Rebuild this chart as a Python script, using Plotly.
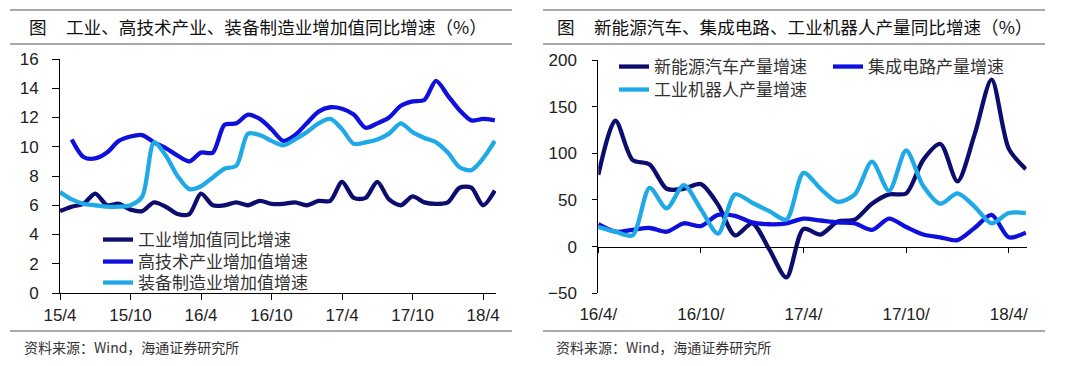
import plotly.graph_objects as go

# ---------------- data ----------------
# left chart: monthly, index 0 .. 37
left_tickvals = [0, 6, 12, 18, 24, 30, 36]
left_ticktext = ["15/4", "15/10", "16/4", "16/10", "17/4", "17/10", "18/4"]
ind_va = [5.6, 5.9, 6.1, 6.8, 6.0, 6.1, 5.7, 5.6, 6.2, 5.9, 5.4, 5.4, 6.8, 6.0, 6.0, 6.2,
          6.0, 6.3, 6.1, 6.1, 6.2, 6.0, 6.3, 6.3, 7.6, 6.5, 6.5, 7.6, 6.4, 6.0, 6.6, 6.2,
          6.1, 6.2, 7.2, 7.2, 6.0, 7.0]
hi_tech = [None, 10.5, 9.3, 9.2, 9.6, 10.4, 10.7, 10.8, 10.3, 9.9, 9.4, 9.0, 9.6, 9.6, 11.5, 11.6,
           12.2, 11.9, 11.2, 10.4, 10.8, 11.6, 12.4, 12.7, 12.6, 12.2, 11.3, 11.6, 12.0, 12.8, 13.1, 13.2,
           14.5, 13.5, 12.5, 11.8, 11.9, 11.8]
equip = [6.9, 6.4, 6.1, 6.0, 5.9, 5.9, 6.0, 6.6, 10.3, 9.4, 8.0, 7.1, 7.3, 7.9, 8.5, 8.7,
         10.9, 10.8, 10.4, 10.1, 10.5, 11.0, 11.6, 11.9, 11.2, 10.2, 10.3, 10.5, 10.9, 11.6, 11.0, 10.6,
         10.3, 9.6, 8.6, 8.4, 9.2, 10.4]
left_names = ["工业增加值同比增速", "高技术产业增加值增速", "装备制造业增加值增速"]

# right chart: monthly, index 0 .. 25
right_tickvals = [0, 6, 12, 18, 24]
right_ticktext = ["16/4/", "16/10/", "17/4/", "17/10/", "18/4/"]
nev = [77, 135, 93, 88, 62, 62, 67, 45, 12, 25, -3, -33, 19, 13, 27, 29, 46, 56, 57, 93,
       110, 70, 120, 179, 105, 83]
ic = [24, 16, 18, 20, 16, 25, 22, 34, 33, 26, 24, 25, 30, 28, 26, 25, 18, 30, 21, 13,
      10, 7, 20, 34, 10, 15]
robots = [21, 16, 12, 63, 41, 66, 40, 14, 56, 47, 38, 29, 79, 62, 48, 56, 91, 60, 103, 65,
          46, 57, 43, 25, 36, 36]
right_names = ["新能源汽车产量增速", "集成电路产量增速", "工业机器人产量增速"]

left_title = "工业、高技术产业、装备制造业增加值同比增速（%）"
right_title = "新能源汽车、集成电路、工业机器人产量同比增速（%）"
source_text = "资料来源：Wind，海通证券研究所"

# ---------------- style ----------------
W, H = 1080, 366
NAVY = "#0d0d70"
BLUE = "#1010dc"
LIGHT = "#1fa9e6"
LW = 4.3
TXT = "#222222"
GRAY = "#8c8c8c"
CJK = "Noto Sans CJK SC"
LAT = "Liberation Sans, Arial"

# page layout (pixels): panel spans and rule heights
PANELS_X = [(10, 512), (543, 1045)]
RULES_Y = [10, 44, 331]


def px(x):
    return x / W


def py(y):
    return 1 - y / H


fig = go.Figure()

# one legend per entry so each entry sits where the reference puts it
left_legends = ["legend", "legend4", "legend5"]
right_legends = ["legend2", "legend3", "legend6"]

xl = list(range(len(ind_va)))
for vals, name, col, lg in zip([ind_va, hi_tech, equip], left_names, [NAVY, BLUE, LIGHT], left_legends):
    fig.add_trace(go.Scatter(x=xl, y=vals, name=name, mode="lines",
                             line=dict(color=col, width=LW, shape="spline", smoothing=0.8),
                             xaxis="x", yaxis="y", legend=lg, connectgaps=False))

xr = list(range(len(nev)))
for vals, name, col, lg in zip([nev, ic, robots], right_names, [NAVY, BLUE, LIGHT], right_legends):
    fig.add_trace(go.Scatter(x=xr, y=vals, name=name, mode="lines",
                             line=dict(color=col, width=LW, shape="spline", smoothing=0.8),
                             xaxis="x2", yaxis="y2", legend=lg))
# empty trace so that the label-only axis is drawn
fig.add_trace(go.Scatter(x=[], y=[], xaxis="x3", yaxis="y2", showlegend=False))

# page decoration: gray rules above/below the titles and above the source line,
# drawn on a hidden full-page pixel axis pair
rx, ry = [], []
for x0, x1 in PANELS_X:
    for yy in RULES_Y:
        rx += [x0, x1, None]
        ry += [yy, yy, None]
fig.add_trace(go.Scatter(x=rx, y=ry, mode="lines", line=dict(color=GRAY, width=1.5),
                         xaxis="x10", yaxis="y10", showlegend=False, hoverinfo="skip"))

tickfont = dict(family=LAT, size=17, color=TXT)

fig.update_layout(
    width=W, height=H,
    margin=dict(l=0, r=0, t=0, b=0),
    paper_bgcolor="white", plot_bgcolor="rgba(0,0,0,0)",
    showlegend=True,
    xaxis=dict(domain=[px(60), px(496)], range=[0, 37.1], tickvals=left_tickvals,
               ticktext=left_ticktext, ticks="outside", ticklen=6, tickcolor="#000",
               showline=True, linecolor="#000", linewidth=1, showgrid=False, zeroline=False,
               tickfont=tickfont, ticklabelstandoff=1, anchor="y", automargin=False),
    yaxis=dict(domain=[py(293), py(59)], range=[0, 16], dtick=2, ticks="outside", ticklen=7,
               tickcolor="#000", showline=True, linecolor="#000", linewidth=1, showgrid=False,
               zeroline=False, tickfont=tickfont, ticklabelstandoff=10, anchor="x",
               automargin=False),
    xaxis2=dict(domain=[px(598.3), px(1026.7)], range=[0, 25.05], tickvals=right_tickvals,
                ticktext=right_ticktext, ticks="outside", ticklen=5, tickcolor="#000",
                showticklabels=False, showline=True, linecolor="#000", linewidth=1,
                showgrid=False, zeroline=False, anchor="free", position=py(246.7),
                automargin=False),
    xaxis3=dict(overlaying="x2", range=[0, 25.05], tickvals=right_tickvals,
                ticktext=right_ticktext, ticks="", showline=False, showgrid=False,
                zeroline=False, tickfont=tickfont, anchor="y2", ticklabelstandoff=9,
                automargin=False),
    yaxis2=dict(domain=[py(293.3), py(60)], range=[-50, 200], dtick=50, ticks="outside",
                ticklen=5, tickcolor="#000", showline=True, linecolor="#000", linewidth=1,
                showgrid=False, zeroline=False, tickfont=tickfont, ticklabelstandoff=12,
                anchor="x2", automargin=False),
    xaxis10=dict(domain=[0, 1], range=[0, W], visible=False, anchor="y10",
                 automargin=False, fixedrange=True),
    yaxis10=dict(domain=[0, 1], range=[H, 0], visible=False, anchor="x10",
                 automargin=False, fixedrange=True),
)

leg_font = dict(family=CJK, size=17, color="#333")
leg_pos = {
    "legend": (98, 240),
    "legend4": (98, 262),
    "legend5": (98, 283),
    "legend2": (614, 67),
    "legend3": (828, 67),
    "legend6": (614, 90),
}
for key, (lx, ly) in leg_pos.items():
    fig.update_layout({key: dict(x=px(lx), y=py(ly), xanchor="left", yanchor="middle",
                                 bgcolor="rgba(0,0,0,0)", font=leg_font,
                                 tracegroupgap=0, itemwidth=30)})

tfont = dict(family=CJK, size=17.6, color="#111")
for xfig, xtxt, t in [(27, 64, left_title), (555, 592, right_title)]:
    fig.add_annotation(text="图", x=px(xfig), y=py(27), xref="paper", yref="paper",
                       xanchor="left", yanchor="middle", showarrow=False, font=tfont)
    fig.add_annotation(text=t, x=px(xtxt), y=py(27), xref="paper", yref="paper",
                       xanchor="left", yanchor="middle", showarrow=False, font=tfont)
for xs in (22, 554):
    fig.add_annotation(text=source_text, x=px(xs), y=py(347), xref="paper", yref="paper",
                       xanchor="left", yanchor="middle", showarrow=False,
                       font=dict(family=CJK, size=14, color="#333"))

fig.write_html("out.html", config={"displayModeBar": False},
               post_script="document.body.style.margin='0';")
